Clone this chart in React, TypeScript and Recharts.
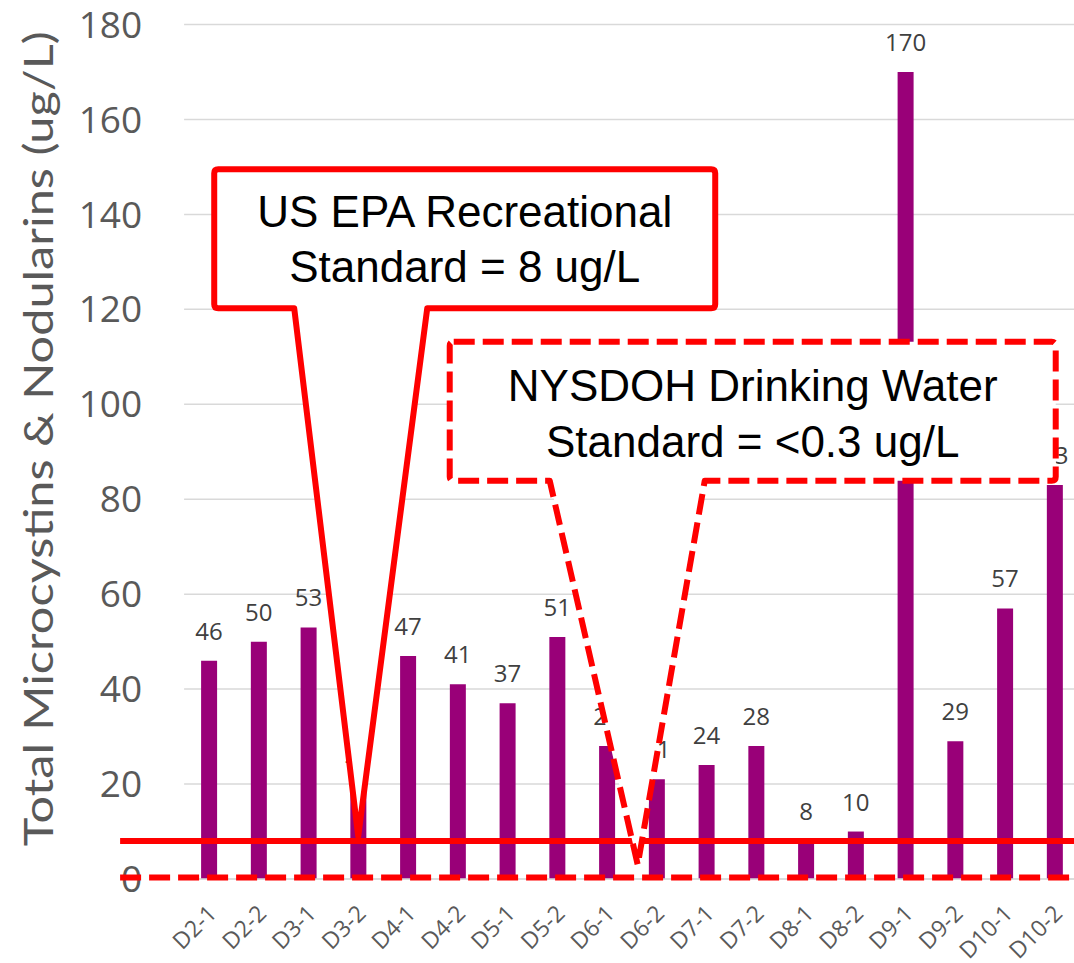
import React from "react";
import {
  BarChart,
  Bar,
  XAxis,
  YAxis,
  CartesianGrid,
  LabelList,
  ReferenceLine,
  ReferenceDot,
} from "recharts";

const categories = [
  "D2-1", "D2-2", "D3-1", "D3-2", "D4-1", "D4-2", "D5-1", "D5-2", "D6-1",
  "D6-2", "D7-1", "D7-2", "D8-1", "D8-2", "D9-1", "D9-2", "D10-1", "D10-2",
];
const toxinValues = [46, 50, 53, 20, 47, 41, 37, 51, 28, 21, 24, 28, 8, 10, 170, 29, 57, 83];
const yTicks = [0, 20, 40, 60, 80, 100, 120, 140, 160, 180];

// guideline levels (ug/L)
const epaStandard = 8;
const nysdohStandard = 0.3;

const epaLines = ["US EPA Recreational", "Standard = 8 ug/L"];
const nysdohLines = ["NYSDOH Drinking Water", "Standard = <0.3 ug/L"];

const data = categories.map((site, i) => ({ site, total: toxinValues[i] }));

const RED = "#ff0000";
const AXIS_GREY = "#595959";

// speech-bubble box whose pointer ends near (cx, cy)
function Callout(props: any) {
  const { cx, cy, box, lines, dashed } = props;
  if (cx == null || cy == null) return null;
  const l = cx + box.left;
  const r = cx + box.right;
  const t = cy + box.top;
  const b = cy + box.bottom;
  const pl = cx + box.pointerLeft;
  const pr = cx + box.pointerRight;
  const rad = 4;
  const d = [
    `M${l + rad},${t}`,
    `L${r - rad},${t}`,
    `Q${r},${t} ${r},${t + rad}`,
    `L${r},${b - rad}`,
    `Q${r},${b} ${r - rad},${b}`,
    `L${pr},${b}`,
    `L${cx + (box.tipDx || 0)},${cy}`,
    `L${pl},${b}`,
    `L${l + rad},${b}`,
    `Q${l},${b} ${l},${b - rad}`,
    `L${l},${t + rad}`,
    `Q${l},${t} ${l + rad},${t}`,
    "Z",
  ].join(" ");
  const mid = (l + r) / 2 + (box.textDx || 0);
  return (
    <g>
      <path
        d={d}
        fill="#ffffff"
        stroke={RED}
        strokeWidth={6}
        strokeLinejoin="round"
        strokeDasharray={dashed ? "21 8" : undefined}
      />
      {lines.map((txt: string, i: number) => (
        <text
          key={txt}
          x={mid}
          y={t + box.firstBaseline + i * box.lineGap}
          textAnchor="middle"
          fontFamily="'Liberation Sans', Arial, sans-serif"
          fontSize={44}
          fill="#000000"
        >
          {txt}
        </text>
      ))}
    </g>
  );
}

// horizontal standard line, drawn a little past the left edge of the plot
function StandardLine(props: any) {
  const { x1, x2, y1, dashed } = props;
  return (
    <line
      x1={x1 - 64}
      x2={x2}
      y1={y1}
      y2={y1}
      stroke={RED}
      strokeWidth={6}
      strokeDasharray={dashed ? "21 8" : undefined}
    />
  );
}

function SiteTick(props: any) {
  const { x, y, payload } = props;
  return (
    <g transform={`translate(${x + 9},${y + 28})`}>
      <text
        transform="rotate(-45)"
        textAnchor="end"
        fontFamily="'Open Sans', sans-serif"
        fontSize={23}
        fill={AXIS_GREY}
      >
        {payload.value}
      </text>
    </g>
  );
}

function YTitle(props: any) {
  const { viewBox } = props;
  const cy = viewBox.y + viewBox.height / 2 - 13;
  return (
    <text
      x={0}
      y={0}
      transform={`translate(38,${cy}) rotate(-90)`}
      textAnchor="middle"
      dominantBaseline="central"
      fontFamily="Lato, sans-serif"
      fontSize={40}
      textLength={815}
      lengthAdjust="spacingAndGlyphs"
      fill={AXIS_GREY}
    >
      Total Microcystins &amp; Nodularins (ug/L)
    </text>
  );
}

export default function App() {
  return (
    <div
      style={{
        position: "fixed",
        top: 0,
        left: 0,
        width: 1074,
        height: 963,
        overflow: "hidden",
        background: "#ffffff",
      }}
    >
      <BarChart
        width={1090}
        height={963}
        data={data}
        margin={{ top: 24.5, right: 10.4, left: 0, bottom: 0 }}
      >
        <CartesianGrid vertical={false} stroke="#d9d9d9" strokeWidth={1.5} />
        <XAxis
          dataKey="site"
          interval={0}
          height={84}
          axisLine={{ stroke: "#d9d9d9", strokeWidth: 1.5 }}
          tickLine={false}
          tick={<SiteTick />}
        />
        <YAxis
          width={184.1}
          domain={[0, 180]}
          ticks={yTicks}
          axisLine={false}
          tickLine={false}
          tickSize={0}
          tickMargin={42}
          tick={{ fill: AXIS_GREY, fontSize: 37, fontFamily: "'Open Sans', sans-serif" }}
          label={<YTitle />}
        />
        <Bar dataKey="total" fill="#990078" barSize={16} isAnimationActive={false}>
          <LabelList
            dataKey="total"
            position="top"
            offset={21}
            fill="#404040"
            fontSize={24}
            fontFamily="'Open Sans', sans-serif"
          />
        </Bar>
        <ReferenceLine
          y={epaStandard}
          zIndex={2100}
          shape={(p: any) => <StandardLine {...p} />}
        />
        <ReferenceLine
          y={nysdohStandard}
          zIndex={2100}
          shape={(p: any) => <StandardLine {...p} dashed />}
        />
        <ReferenceDot
          x="D3-2"
          y={9}
          zIndex={2200}
          shape={(p: any) => (
            <Callout
              {...p}
              lines={epaLines}
              box={{
                left: -144,
                right: 357,
                top: -667,
                bottom: -528,
                pointerLeft: -64,
                pointerRight: 69,
                firstBaseline: 58,
                lineGap: 55,
              }}
            />
          )}
        />
        <ReferenceDot
          x="D6-2"
          y={3}
          zIndex={2200}
          shape={(p: any) => (
            <Callout
              {...p}
              dashed
              lines={nysdohLines}
              box={{
                left: -207,
                right: 399,
                top: -523,
                bottom: -384,
                pointerLeft: -107,
                pointerRight: 48,
                tipDx: -19,
                firstBaseline: 59,
                lineGap: 56,
              }}
            />
          )}
        />
      </BarChart>
    </div>
  );
}
